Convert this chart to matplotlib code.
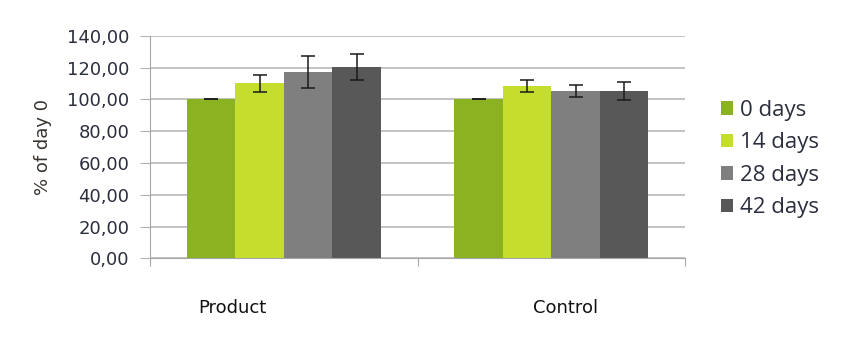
import numpy as np
import matplotlib
matplotlib.use("Agg")
import matplotlib.pyplot as plt
from matplotlib import font_manager
from matplotlib.ticker import FuncFormatter

groups = ["Product", "Control"]
series = ["0 days", "14 days", "28 days", "42 days"]
values = [[100.0, 110.1, 117.0, 120.4],
          [100.0, 108.4, 105.0, 105.4]]
errors = [[0.0, 5.5, 10.1, 8.2],
          [0.0, 4.0, 3.8, 5.6]]
colors = ["#8bb221", "#c5de2e", "#7f7f7f", "#585858"]

values = np.array(values)
errors = np.array(errors)

# pick a narrow face for the category labels if there is one
installed = {f.name for f in font_manager.fontManager.ttflist}
narrow = "DejaVu Sans"
narrow_size = 13
for name, size in [("Liberation Sans Narrow", 17), ("DejaVu Sans Condensed", 14)]:
    if name in installed:
        narrow, narrow_size = name, size
        break

fig = plt.figure(figsize=(8.65, 3.51), dpi=100)
ax = fig.add_axes([0.1734, 0.264, 0.6186, 0.634])

n = len(series)
w = 0.725 / n
x = np.arange(len(groups))
for i in range(n):
    pos = x - 0.3625 + w * (i + 0.5)
    ax.bar(pos, values[:, i], width=w, color=colors[i], label=series[i], zorder=2,
           edgecolor="none")
    ax.errorbar(pos, values[:, i], yerr=errors[:, i], fmt="none", ecolor="#1a1a1a",
                elinewidth=1.1, capsize=5, capthick=1.1, zorder=3)

ax.set_xlim(-0.5, 1.5)
ax.set_ylim(0, 140)
ax.set_yticks(np.arange(0, 141, 20))
ax.yaxis.set_major_formatter(FuncFormatter(lambda v, p: f"{v:.2f}".replace(".", ",")))
ax.set_xticks([-0.5, 0.5, 1.5])
ax.set_xticklabels([])
ax.grid(axis="y", color="#b3b3b3", lw=1.1, zorder=0)
for s in ["top", "right"]:
    ax.spines[s].set_visible(False)
ax.spines["left"].set_color("#a6a6a6")
ax.spines["bottom"].set_color("#a6a6a6")
ax.tick_params(axis="y", length=7, color="#b3b3b3", labelsize=13, labelcolor="#2b2f3d",
               pad=8)
ax.tick_params(axis="x", length=6, color="#a6a6a6")
for lab in ax.get_yticklabels():
    lab.set_family("DejaVu Sans")

ax.set_ylabel("% of day 0", fontsize=13, color="#3a3430", family="DejaVu Sans", labelpad=11)

# category labels sit a bit left of the group centres
label_x = [-0.193, 1.055]
for gx, g in zip(label_x, groups):
    ax.text(gx, -0.223, g, transform=ax.get_xaxis_transform(), ha="center", va="center",
            fontsize=narrow_size, family=[narrow, "DejaVu Sans"], color="#111111")

leg = ax.legend(loc="center left", bbox_to_anchor=(1.067, 0.446), frameon=False,
                prop={"family": "Open Sans", "size": 16}, handlelength=0.54,
                handleheight=0.54, handletextpad=0.3, labelspacing=0.52,
                borderaxespad=0, borderpad=0)
for t in leg.get_texts():
    t.set_color("#2b2f3d")

fig.savefig("out.png", dpi=100)
